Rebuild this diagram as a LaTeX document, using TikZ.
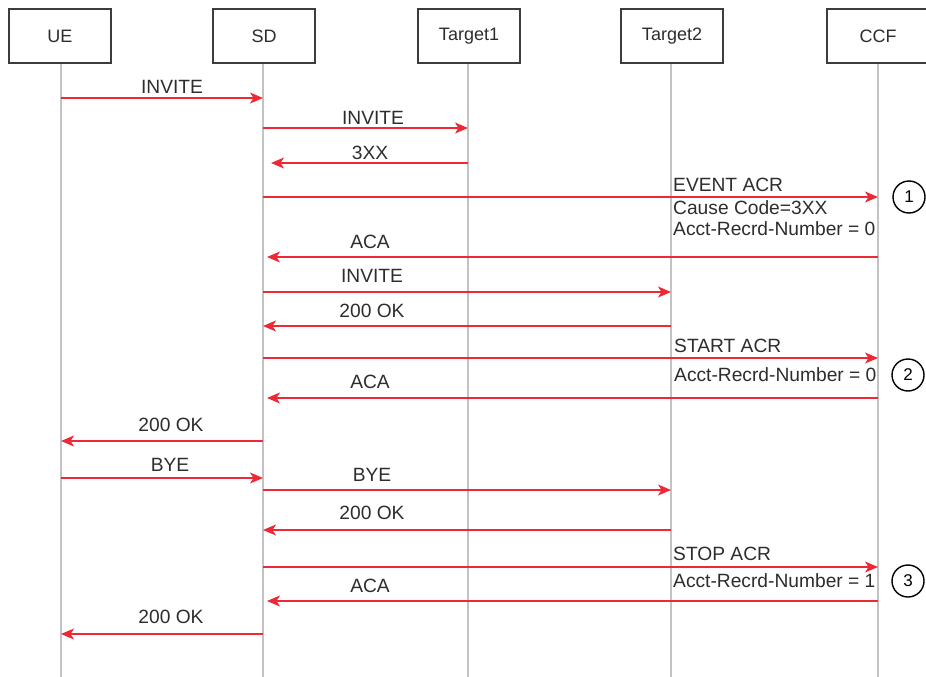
\documentclass[tikz,border=0pt]{standalone}
\usepackage{fontspec}
\setmainfont{Liberation Sans}
\usetikzlibrary{arrows.meta}
\definecolor{boxc}{RGB}{60,60,60}
\definecolor{lifec}{RGB}{195,195,195}
\definecolor{redc}{RGB}{238,40,52}
\definecolor{txt}{RGB}{45,45,45}
\begin{document}
\begin{tikzpicture}[x=1pt,y=-1pt,
  ent/.style={draw=boxc, line width=1.4pt, fill=white, minimum width=102pt, minimum height=54pt, inner sep=0pt, font=\fontsize{18}{20}\selectfont, text=txt},
  life/.style={draw=lifec, line width=1.5pt},
  msg/.style={draw=redc, line width=1.4pt, -{Stealth[length=13pt,width=11pt,inset=3.5pt]}},
  lbl/.style={font=\fontsize{19.2}{22}\selectfont, text=txt, inner sep=0pt},
  lblw/.style={lbl, anchor=west},
  num/.style={circle, draw=black, line width=1.4pt, minimum size=32pt, inner sep=0pt, font=\fontsize{17}{19}\selectfont, fill=white}
]
\useasboundingbox (0,0) rectangle (926,677);
\clip (0,0) rectangle (926,677);
% entities
\node[ent] (ue) at (60,36) {UE};
\node[ent] (sd) at (264,36) {SD};
\node[ent] (t1) at (469,36) {Target1};
\node[ent] (t2) at (672,36) {Target2};
\node[ent] (ccf) at (878,36) {CCF};
% lifelines
\coordinate (ueB) at (61,677);
\coordinate (sdB) at (263,677);
\coordinate (t1B) at (468,677);
\coordinate (t2B) at (671,677);
\coordinate (ccfB) at (878,677);
\draw[life] (ueB |- ue.south) -- (ueB);
\draw[life] (sdB |- sd.south) -- (sdB);
\draw[life] (t1B |- t1.south) -- (t1B);
\draw[life] (t2B |- t2.south) -- (t2B);
\draw[life] (ccfB |- ccf.south) -- (ccfB);
% messages
\draw[msg] (ueB |- 0,98) -- (sdB |- 0,98);
\node[lbl] (l1) at (172,87) {INVITE};
\draw[msg] (sdB |- 0,128) -- (t1B |- 0,128);
\node[lbl] (l2) at (373,118) {INVITE};
\draw[msg, shorten >=8pt] (t1B |- 0,163) -- (sdB |- 0,163);
\node[lbl] (l3) at (370,153) {3XX};
\draw[msg] (sdB |- 0,197) -- (ccfB |- 0,197);
\node[lblw] (l4a) at (673,185) {EVENT ACR};
\node[lblw] (l4b) at (673,208) {Cause Code=3XX};
\node[lblw] (l4c) at (673,229) {Acct-Recrd-Number = 0};
\draw[msg, shorten >=4pt] (ccfB |- 0,257) -- (sdB |- 0,257);
\node[lbl] (l5) at (370,242) {ACA};
\draw[msg] (sdB |- 0,292) -- (t2B |- 0,292);
\node[lbl] (l6) at (372,276) {INVITE};
\draw[msg] (t2B |- 0,326) -- (sdB |- 0,326);
\node[lbl] (l7) at (372,311) {200 OK};
\draw[msg] (sdB |- 0,358) -- (ccfB |- 0,358);
\node[lblw] (l8a) at (674,346) {START ACR};
\node[lblw] (l8b) at (674,375) {Acct-Recrd-Number = 0};
\draw[msg, shorten >=4pt] (ccfB |- 0,398) -- (sdB |- 0,398);
\node[lbl] (l9) at (370,382) {ACA};
\draw[msg] (sdB |- 0,441) -- (ueB |- 0,441);
\node[lbl] (l10) at (171,425) {200 OK};
\draw[msg] (ueB |- 0,478) -- (sdB |- 0,478);
\node[lbl] (l11) at (170,465) {BYE};
\draw[msg] (sdB |- 0,490) -- (t2B |- 0,490);
\node[lbl] (l12) at (372,475) {BYE};
\draw[msg] (t2B |- 0,530) -- (sdB |- 0,530);
\node[lbl] (l13) at (372,513) {200 OK};
\draw[msg] (sdB |- 0,567) -- (ccfB |- 0,567);
\node[lblw] (l14a) at (673,554) {STOP ACR};
\node[lblw] (l14b) at (673,581) {Acct-Recrd-Number = 1};
\draw[msg, shorten >=4pt] (ccfB |- 0,601) -- (sdB |- 0,601);
\node[lbl] (l15) at (370,586) {ACA};
\draw[msg] (sdB |- 0,634) -- (ueB |- 0,634);
\node[lbl] (l16) at (171,617) {200 OK};
% markers
\node[num] (c1) at (909,197) {1};
\node[num] (c2) at (908,375) {2};
\node[num] (c3) at (908,581) {3};
\end{tikzpicture}
\end{document}
